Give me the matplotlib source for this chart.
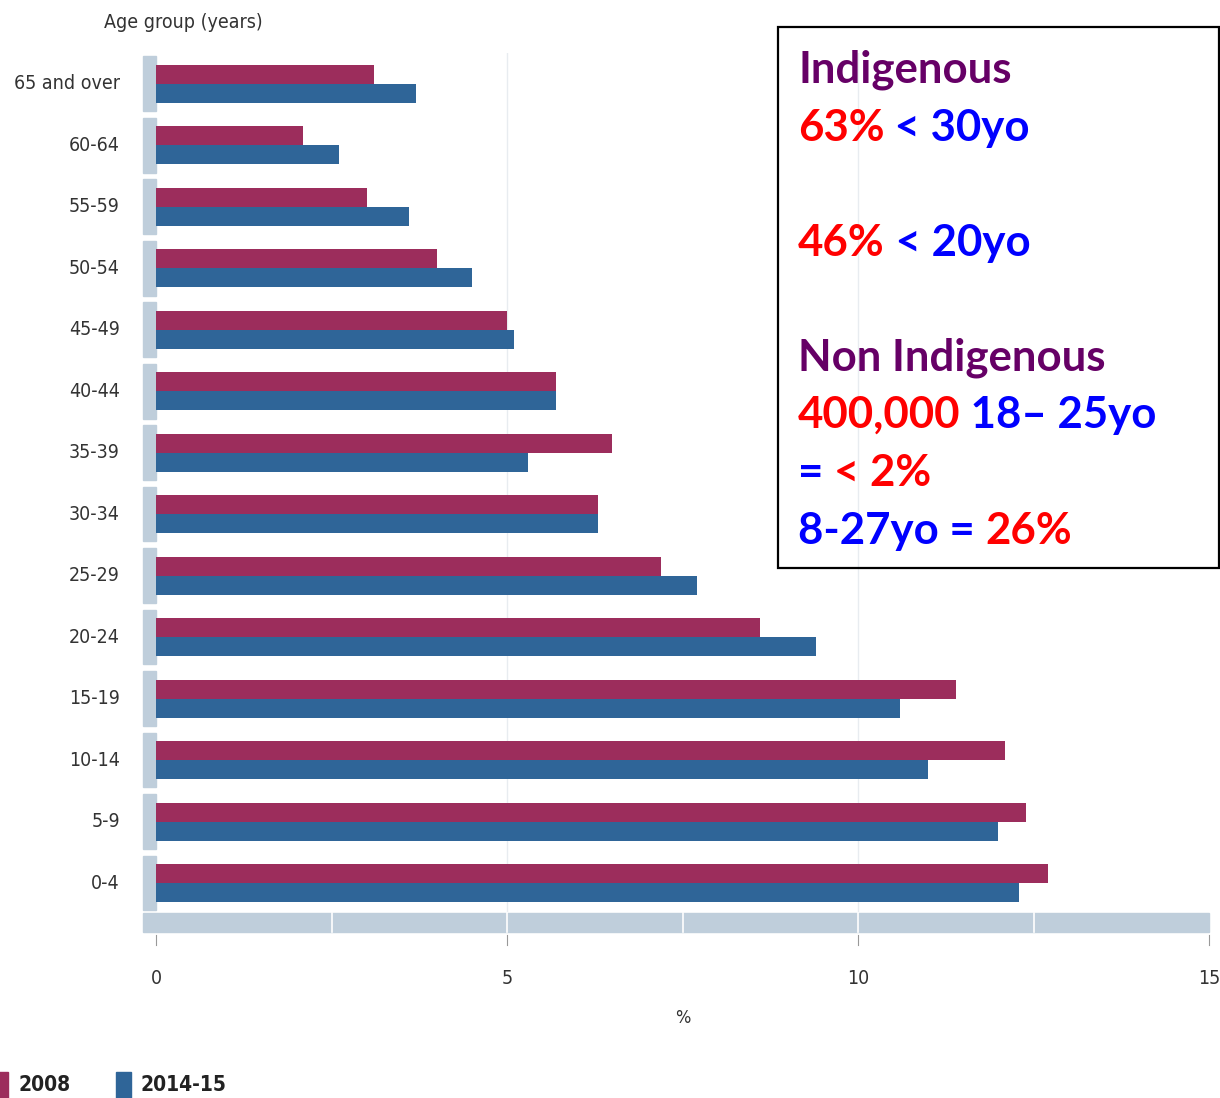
import matplotlib
matplotlib.use("Agg")
import matplotlib.pyplot as plt
from matplotlib.patches import Rectangle
from matplotlib.text import Annotation

# Age distribution by survey year (%)
age_groups = ["0-4", "5-9", "10-14", "15-19", "20-24", "25-29", "30-34",
              "35-39", "40-44", "45-49", "50-54", "55-59", "60-64", "65 and over"]
pct_2008 = [12.7, 12.4, 12.1, 11.4, 8.6, 7.2, 6.3, 6.5, 5.7, 5.0, 4.0, 3.0, 2.1, 3.1]
pct_2014 = [12.3, 12.0, 11.0, 10.6, 9.4, 7.7, 6.3, 5.3, 5.7, 5.1, 4.5, 3.6, 2.6, 3.7]
series_labels = ["2008", "2014-15"]
x_ticks = [0, 5, 10, 15]

C_2008 = "#9c2d5c"
C_2014 = "#2f6598"
STRIP = "#bfcedb"
LABEL_KW = dict(family="DejaVu Sans", fontstretch="condensed", color="#333333")
note_font = "Lato"

W, H = 1220, 1098
fig = plt.figure(figsize=(W / 100, H / 100), dpi=100)

# axes placement in pixels: x 0..15 spans px 156..1209, rows spaced 61.5 px
x0_px, x1_px = 156, 1209
top_px, bot_px = 53, 935
ax = fig.add_axes([x0_px / W, 1 - bot_px / H, (x1_px - x0_px) / W, (bot_px - top_px) / H])
ax.set_xlim(0, 15)
ax.set_ylim(-0.845, 13.5)
for s in ax.spines.values():
    s.set_visible(False)
ax.set_yticks([])
ax.set_xticks([])

bar_h = 0.31
ys = list(range(len(age_groups)))

# faint vertical gridlines
for gx in [5, 10]:
    ax.plot([gx, gx], [-0.45, 13.5], color="#e8ecf0", lw=1, zorder=0)

ax.barh([y + bar_h / 2 for y in ys], pct_2008, height=bar_h, color=C_2008,
        label=series_labels[0], zorder=2)
ax.barh([y - bar_h / 2 for y in ys], pct_2014, height=bar_h, color=C_2014,
        label=series_labels[1], zorder=2)

# category strips at the left edge
px_per_unit = (x1_px - x0_px) / 15
strip_w = 13 / px_per_unit
for y in ys:
    ax.add_patch(Rectangle((-strip_w, y - 0.445), strip_w, 0.89, color=STRIP,
                           clip_on=False, zorder=1))
    ax.text(-36 / px_per_unit, y, age_groups[y], ha="right", va="center",
            fontsize=14, **LABEL_KW)

# range strip along the bottom
ax.add_patch(Rectangle((-strip_w, -0.797), 15 + strip_w, 0.309, color=STRIP,
                       clip_on=False, zorder=1))
for gx in [2.5, 5, 7.5, 10, 12.5]:
    ax.plot([gx, gx], [-0.797, -0.488], color="white", lw=1.2, zorder=2)
ax.plot([-0.01, -0.01], [-0.797, -0.488], color="white", lw=1.2, zorder=2)

# tick marks and labels
for tx in x_ticks:
    ax.plot([tx, tx], [-0.845, -1.0], color="#999999", lw=0.8, clip_on=False)
    ax.text(tx, -1.56, str(tx), ha="center", va="center", fontsize=14, **LABEL_KW)
ax.text(7.5, -2.2, "%", ha="center", va="center", fontsize=13, **LABEL_KW)

fig.text(183 / W, 1 - 22 / H, "Age group (years)", ha="center", va="center",
         fontsize=14, **LABEL_KW)

# legend
legend_kw = dict(ha="left", va="center", fontsize=15, fontweight="bold",
                 color="#222222", family="DejaVu Sans", fontstretch="condensed")
fig.patches.append(Rectangle((-2 / W, 1 - 1098 / H), 10 / W, 26 / H, color=C_2008,
                             transform=fig.transFigure, figure=fig))
fig.text(18 / W, 1 - 1085 / H, series_labels[0], **legend_kw)
fig.patches.append(Rectangle((116 / W, 1 - 1098 / H), 15 / W, 26 / H, color=C_2014,
                             transform=fig.transFigure, figure=fig))
fig.text(141 / W, 1 - 1085 / H, series_labels[1], **legend_kw)

# annotation box
fig.patches.append(Rectangle((778 / W, 1 - 568 / H), (1219 - 778) / W, (568 - 27) / H,
                             fill=False, edgecolor="black", lw=1.6,
                             transform=fig.transFigure, figure=fig))

PURPLE, RED, BLUE = "#660066", "#ff0000", "#0000ff"
note_lines = [
    (82, [("Indigenous", PURPLE)]),
    (141, [("63%", RED), (" < 30yo", BLUE)]),
    (256, [("46%", RED), (" < 20yo", BLUE)]),
    (371, [("Non Indigenous", PURPLE)]),
    (428, [("400,000", RED), (" 18\u2013 25yo", BLUE)]),
    (486, [("= ", BLUE), ("< 2%", RED)]),
    (544, [("8-27yo = ", BLUE), ("26%", RED)]),
]
note_kw = dict(fontsize=31.5, fontweight="bold", family=note_font)
for base_px, parts in note_lines:
    (first_txt, first_col), rest = parts[0], parts[1:]
    prev = fig.text(798 / W, 1 - base_px / H, first_txt, ha="left", va="baseline",
                    color=first_col, **note_kw)
    # each following coloured run starts where the previous one ends
    for txt, col in rest:
        prev = fig.add_artist(Annotation(txt, xy=(1, 0), xycoords=prev,
                                         ha="left", va="bottom", color=col, **note_kw))

fig.savefig("out.png", dpi=100, facecolor="white")
